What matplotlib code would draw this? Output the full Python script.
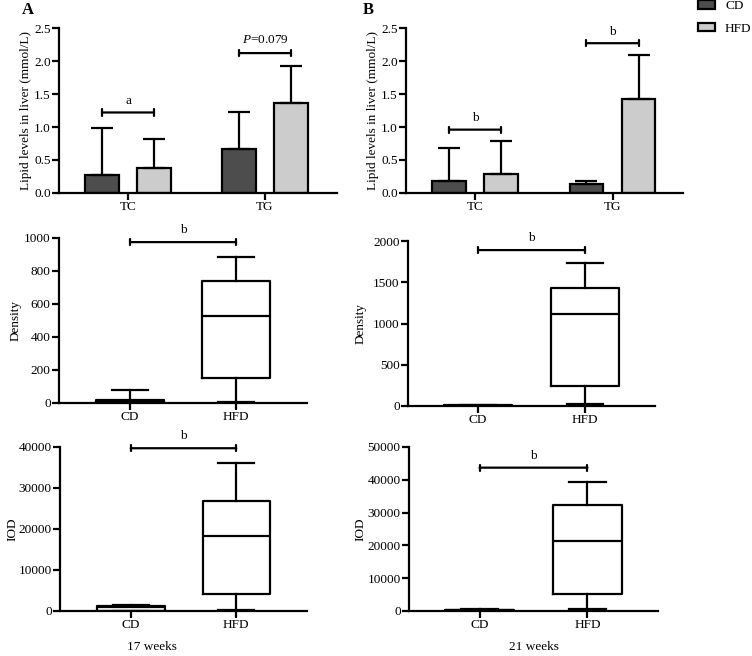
import matplotlib
matplotlib.use('Agg')
import matplotlib.pyplot as plt
from matplotlib.patches import Patch

plt.rcParams['font.family'] = ['Liberation Serif', 'DejaVu Serif']
plt.rcParams['font.size'] = 9
plt.rcParams['mathtext.fontset'] = 'custom'
plt.rcParams['mathtext.it'] = 'Liberation Serif:italic'
plt.rcParams['mathtext.rm'] = 'Liberation Serif'

# bar data (mean, upper error length)
lipids = ['TC', 'TG']
cd_a = [0.28, 0.67]
cd_a_err = [0.70, 0.55]
hfd_a = [0.38, 1.37]
hfd_a_err = [0.44, 0.55]
cd_b = [0.18, 0.13]
cd_b_err = [0.50, 0.05]
hfd_b = [0.29, 1.43]
hfd_b_err = [0.50, 0.66]

groups = ['CD', 'HFD']
# box stats: min, q1, median, q3, max
dens_a = [[0, 0, 8, 18, 78], [5, 150, 530, 740, 885]]
dens_b = [[0, 0, 5, 10, 15], [25, 245, 1120, 1430, 1730]]
iod_a = [[0, 100, 900, 1100, 1500], [300, 4200, 18200, 26800, 36200]]
iod_b = [[0, 0, 300, 400, 600], [500, 5100, 21200, 32400, 39300]]

dark = '#4d4d4d'
light = '#cccccc'
lw = 1.6
fs = 9.5

fig = plt.figure(figsize=(7.52, 6.56), dpi=100)


def style(ax):
    for s in ['top', 'right']:
        ax.spines[s].set_visible(False)
    for s in ['left', 'bottom']:
        ax.spines[s].set_linewidth(lw)
    ax.tick_params(width=lw, length=5, labelsize=fs, pad=1)


def bracket(ax, x1, x2, y, label, dy):
    ax.annotate('', xy=(x1, y), xytext=(x2, y),
                arrowprops=dict(arrowstyle='|-|, widthA=0.25, widthB=0.25',
                                lw=lw, color='black', shrinkA=0, shrinkB=0),
                annotation_clip=False)
    ax.text((x1 + x2) / 2, y + dy, label, ha='center', va='bottom',
            fontsize=fs, clip_on=False)


def bars(rect, cd, cde, hfd, hfde, xlim, brks, labx):
    ax = fig.add_axes(rect)
    x = [0, 1]
    off = 0.19
    w = 0.245
    ax.bar([i - off for i in x], cd, w, color=dark, edgecolor='black', lw=lw,
           yerr=[[0, 0], cde], error_kw=dict(lw=lw, capsize=8, capthick=lw), zorder=2)
    ax.bar([i + off for i in x], hfd, w, color=light, edgecolor='black', lw=lw,
           yerr=[[0, 0], hfde], error_kw=dict(lw=lw, capsize=8, capthick=lw), zorder=2)
    ax.set_xlim(xlim)
    ax.set_ylim(0, 2.5)
    ax.set_yticks([0, 0.5, 1.0, 1.5, 2.0, 2.5])
    ax.set_yticklabels(['0.0', '0.5', '1.0', '1.5', '2.0', '2.5'])
    ax.set_xticks(x)
    ax.set_xticklabels(lipids)
    ax.set_ylabel('Lipid levels in liver (mmol/L)', fontsize=fs)
    ax.yaxis.set_label_coords(labx, 0.5)
    style(ax)
    for i, y, lab in brks:
        bracket(ax, i - off, i + off, y, lab, 0.08)
    return ax


def boxes(rect, stats, ymax, step, ylabel, xlim, by, ly, labx):
    ax = fig.add_axes(rect)
    bs = []
    for g, s in zip(groups, stats):
        bs.append(dict(label=g, whislo=s[0], q1=s[1], med=s[2], q3=s[3], whishi=s[4]))
    ax.bxp(bs, positions=[1, 2], widths=0.64, showfliers=False,
           boxprops=dict(lw=lw, color='black'),
           medianprops=dict(lw=lw, color='black'),
           whiskerprops=dict(lw=lw, color='black'),
           capprops=dict(lw=lw, color='black'),
           capwidths=0.34)
    ax.set_xlim(xlim)
    ax.set_ylim(0, ymax)
    ax.set_yticks(range(0, ymax + 1, step))
    ax.set_ylabel(ylabel, fontsize=fs)
    ax.yaxis.set_label_coords(labx, 0.5)
    style(ax)
    bracket(ax, 1, 2, by, 'b', ly)
    return ax


ax1 = bars([0.0785, 0.7058, 0.3697, 0.2515], cd_a, cd_a_err, hfd_a, hfd_a_err,
           (-0.504, 1.526), [(0, 1.22, 'a')], -0.097)
ax1.annotate('', xy=(1 - 0.19, 2.12), xytext=(1 + 0.19, 2.12),
             arrowprops=dict(arrowstyle='|-|, widthA=0.25, widthB=0.25',
                             lw=lw, color='black', shrinkA=0, shrinkB=0))
ax1.text(1, 2.22, r'$P$=0.079', ha='center', va='bottom', fontsize=fs)

ax2 = bars([0.5399, 0.7058, 0.3684, 0.2515], cd_b, cd_b_err, hfd_b, hfd_b_err,
           (-0.502, 1.513), [(0, 0.96, 'b'), (1, 2.27, 'b')], -0.097)

boxes([0.0785, 0.3857, 0.3298, 0.2515], dens_a, 1000, 200, 'Density',
      (0.33, 2.67), 975, 35, -0.149)
boxes([0.5426, 0.3811, 0.3285, 0.2515], dens_b, 2000, 500, 'Density',
      (0.346, 2.654), 1890, 70, -0.166)
boxes([0.0798, 0.0686, 0.3285, 0.25], iod_a, 40000, 10000, 'IOD',
      (0.33, 2.67), 39700, 1500, -0.17)
boxes([0.5439, 0.0686, 0.3311, 0.25], iod_b, 50000, 10000, 'IOD',
      (0.346, 2.654), 43700, 1800, -0.169)

fig.text(22 / 752, 0.997, 'A', fontsize=12, fontweight='bold', va='top')
fig.text(363 / 752, 0.997, 'B', fontsize=12, fontweight='bold', va='top')
fig.text(152 / 752, 0.004, '17 weeks', ha='center', va='bottom', fontsize=fs)
fig.text(534 / 752, 0.004, '21 weeks', ha='center', va='bottom', fontsize=fs)

handles = [Patch(facecolor=dark, edgecolor='black', lw=lw),
           Patch(facecolor=light, edgecolor='black', lw=lw)]
fig.legend(handles, groups, loc='upper left', bbox_to_anchor=(698 / 752, 1.0),
           frameon=False, fontsize=fs, handlelength=1.3, handleheight=0.6,
           labelspacing=0.8, handletextpad=0.75, borderpad=0, borderaxespad=0)

fig.savefig('out.png', dpi=100)
